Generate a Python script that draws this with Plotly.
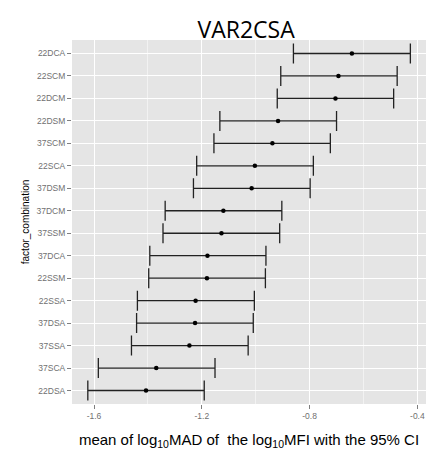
import plotly.graph_objects as go

# categories from top to bottom
categories = ["22DCA", "22SCM", "22DCM", "22DSM", "37SCM", "22SCA", "37DSM", "37DCM",
              "37SSM", "37DCA", "22SSM", "22SSA", "37DSA", "37SSA", "37SCA", "22DSA"]
mean_vals = [-0.643, -0.693, -0.704, -0.917, -0.938, -1.003, -1.015, -1.120,
             -1.127, -1.179, -1.181, -1.223, -1.225, -1.246, -1.369, -1.407]
lower_ci = [-0.860, -0.907, -0.920, -1.133, -1.155, -1.219, -1.231, -1.336,
            -1.344, -1.393, -1.397, -1.439, -1.442, -1.461, -1.584, -1.623]
upper_ci = [-0.426, -0.475, -0.488, -0.700, -0.723, -0.786, -0.798, -0.903,
            -0.911, -0.962, -0.964, -1.005, -1.009, -1.028, -1.151, -1.191]
x_ticks = [-1.6, -1.2, -0.8, -0.4]
x_minor = [-1.4, -1.0, -0.6]

err_plus = [u - m for u, m in zip(upper_ci, mean_vals)]
err_minus = [m - l for m, l in zip(mean_vals, lower_ci)]

fig = go.Figure()
fig.add_trace(go.Scatter(
    x=mean_vals, y=categories, mode="markers",
    marker=dict(color="black", size=4.5),
    error_x=dict(type="data", symmetric=False, array=err_plus, arrayminus=err_minus,
                 color="#222222", thickness=1.3, width=10),
    showlegend=False,
))

fig.update_layout(
    width=445, height=450,
    margin=dict(l=64, r=27, t=32, b=50),
    paper_bgcolor="white",
    plot_bgcolor="#E5E5E5",
    font=dict(family="Liberation Sans, Arial, sans-serif"),
    title=dict(text="VAR2CSA", x=0.535, xanchor="center", y=0.952, yanchor="middle",
               font=dict(size=23, color="black", family="Open Sans, sans-serif")),
)
fig.update_xaxes(
    range=[-1.6817, -0.368],
    tickvals=x_ticks, ticktext=[str(t) for t in x_ticks],
    showgrid=True, gridcolor="white", gridwidth=1.2,
    zeroline=False, showline=False,
    ticks="outside", ticklen=4, tickcolor="#7F7F7F", tickwidth=1,
    tickfont=dict(size=8.5, color="#707070"),
    minor=dict(tickvals=x_minor, showgrid=True, gridcolor="#F2F2F2", gridwidth=0.6, ticklen=0),
    title=dict(text="mean of log<sub>10</sub>MAD of  the log<sub>10</sub>MFI with the 95% CI",
               font=dict(size=15, color="black"), standoff=14),
)
fig.update_yaxes(
    type="category",
    categoryorder="array", categoryarray=list(reversed(categories)),
    range=[-0.6, 15.6],
    showgrid=True, gridcolor="white", gridwidth=1.2,
    zeroline=False, showline=False,
    ticks="outside", ticklen=4, tickcolor="#7F7F7F", tickwidth=1,
    tickfont=dict(size=8.5, color="#707070"),
    title=dict(text="factor_combination", font=dict(size=10, color="black"), standoff=4),
)

fig.write_html("out.html")
